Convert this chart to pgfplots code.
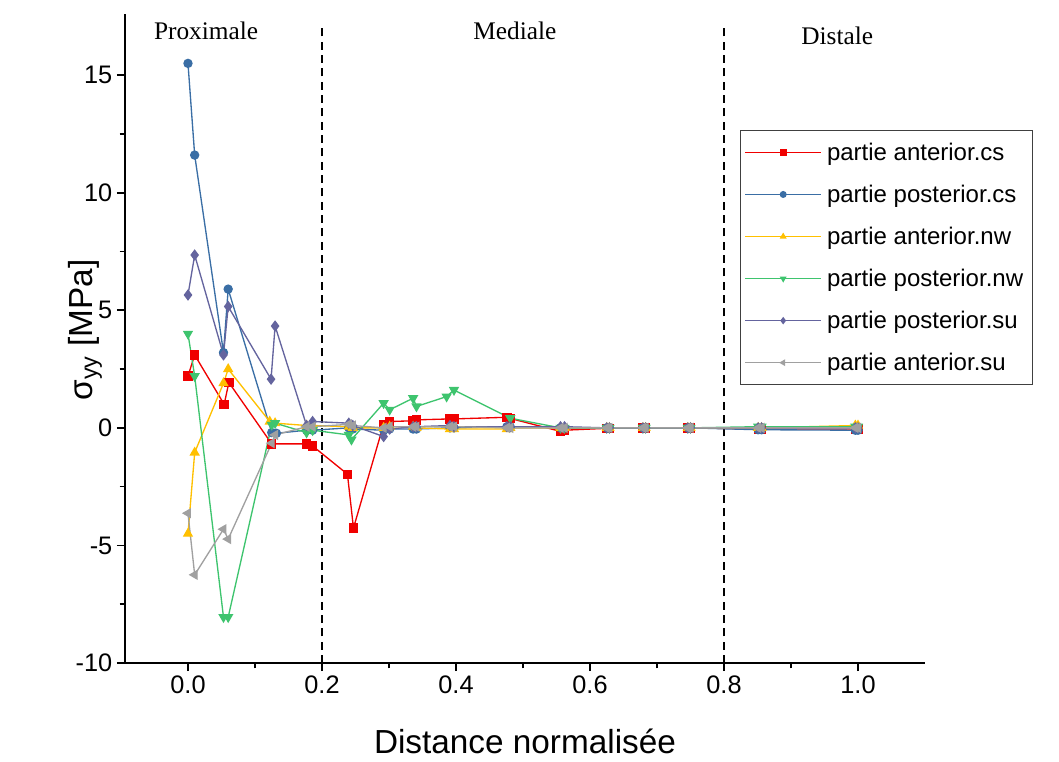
\documentclass[border=0pt]{standalone}
\usepackage{pgfplots}
\pgfplotsset{compat=1.18}
\usepackage{fontspec}
\setmainfont{Liberation Sans}
\newfontfamily\seriffont{Liberation Serif}
\definecolor{cRed}{HTML}{F00000}
\definecolor{cBlue}{HTML}{3A6EA5}
\definecolor{cYel}{HTML}{FFC000}
\definecolor{cGreen}{HTML}{3EC46E}
\definecolor{cPurp}{HTML}{64649E}
\definecolor{cGray}{HTML}{A0A0A0}
\begin{document}
\begin{tikzpicture}
\begin{axis}[
  name=ax,
  scale only axis,
  width=600pt, height=486.75pt,
  xmin=-0.094, xmax=1.1, ymin=-10, ymax=17.6,
  axis x line=bottom, axis y line=left,
  axis line style={-, line width=1.4pt},
  tick align=outside,
  major tick length=6pt, minor tick length=4pt,
  tick style={line width=1.2pt, black},
  xtick={0,0.2,0.4,0.6,0.8,1.0},
  ytick={-10,-5,0,5,10,15},
  minor x tick num=1, minor y tick num=1,
  xticklabel style={/pgf/number format/.cd, fixed, fixed zerofill, precision=1},
  /pgf/number format/assume math mode=true,
  ticklabel style={font=\fontsize{19}{22}\selectfont},
  xlabel={Distance normalisée},
  ylabel={σ\textsubscript{yy} [MPa]},
  label style={font=\fontsize{25}{30}\selectfont},
  xlabel style={at={(axis description cs:0.5,0)}, anchor=center, yshift=-59pt},
  ylabel style={at={(axis description cs:-0.05,0.513)}, anchor=center},
  legend style={at={(0.769,0.821)}, anchor=north west, draw=black!75, line width=0.8pt,
    font=\fontsize{18}{21}\selectfont, row sep=13pt, inner xsep=3pt, inner ysep=7pt,
    nodes={inner xsep=4pt}},
  legend cell align=left,
  legend image code/.code={\draw[mark repeat=2,mark phase=2,#1, mark size=2.2pt, line width=0.8pt] plot coordinates {(0cm,0cm) (1cm,0cm) (2cm,0cm)};},
  every axis plot/.append style={line width=1pt},
  clip=false,
]
\addplot[black, dash pattern=on 6pt off 4pt, line width=0.9pt, forget plot] coordinates {(0.2,-10) (0.2,17.1)};
\addplot[black, dash pattern=on 6pt off 4pt, line width=0.9pt, forget plot] coordinates {(0.8,-10) (0.8,17.1)};

\addplot[cRed, mark=square*, mark size=3pt] coordinates {
(0,2.2) (0.010,3.1) (0.054,1.0) (0.061,1.93) (0.125,-0.68) (0.177,-0.68) (0.186,-0.77)
(0.238,-1.97) (0.247,-4.26) (0.292,0.15) (0.301,0.27) (0.336,0.30) (0.341,0.34)
(0.391,0.38) (0.397,0.38) (0.476,0.45) (0.481,0.40) (0.556,-0.15) (0.562,-0.1)
(0.625,-0.02) (0.629,-0.02) (0.679,0) (0.683,0) (0.746,0) (0.750,0) (0.851,-0.05) (0.856,-0.05) (0.996,-0.05) (1.0,-0.05)};
\addlegendentry{partie anterior.cs}

\addplot[cBlue, mark=*, mark size=3pt] coordinates {
(0,15.5) (0.010,11.6) (0.053,3.2) (0.060,5.9) (0.125,-0.2) (0.132,-0.23) (0.177,-0.1) (0.186,-0.1)
(0.240,0.0) (0.246,-0.05) (0.292,-0.1) (0.301,-0.05) (0.336,-0.05) (0.341,-0.05)
(0.391,0) (0.397,0) (0.476,0.05) (0.481,0.05) (0.556,0) (0.562,0)
(0.625,0) (0.629,0) (0.679,0) (0.683,0) (0.746,0) (0.750,0) (0.851,-0.08) (0.856,-0.08) (0.996,-0.1) (1.0,-0.1)};
\addlegendentry{partie posterior.cs}

\addplot[cYel, mark=triangle*, mark size=3.5pt] coordinates {
(0,-4.5) (0.010,-1.05) (0.053,1.9) (0.060,2.5) (0.122,0.27) (0.130,0.2) (0.177,0.1) (0.186,0.1)
(0.240,0.05) (0.246,0.0) (0.292,0.0) (0.301,0.05) (0.336,0.05) (0.341,0.0)
(0.391,-0.05) (0.397,-0.05) (0.476,-0.05) (0.481,0) (0.556,0) (0.562,0)
(0.625,0) (0.629,0) (0.679,0) (0.683,0) (0.746,0) (0.750,0) (0.851,0) (0.856,0) (0.996,0.1) (1.0,0.1)};
\addlegendentry{partie anterior.nw}

\addplot[cGreen, mark=triangle*, mark options={rotate=180}, mark size=3.5pt] coordinates {
(0,4.0) (0.010,2.2) (0.053,-8.05) (0.060,-8.05) (0.125,0.13) (0.130,0.2) (0.177,-0.2) (0.186,-0.1)
(0.240,-0.3) (0.244,-0.5) (0.292,1.05) (0.301,0.77) (0.336,1.26) (0.341,0.91)
(0.386,1.33) (0.397,1.61) (0.481,0.41) (0.556,0) (0.562,0)
(0.625,0) (0.629,0) (0.679,0) (0.683,0) (0.746,0) (0.750,0) (0.851,0.05) (0.856,0.05) (0.996,0.05) (1.0,0.05)};
\addlegendentry{partie posterior.nw}

\addplot[cPurp, mark=diamond*, mark size=3.5pt] coordinates {
(0,5.65) (0.010,7.35) (0.053,3.1) (0.060,5.16) (0.124,2.07) (0.130,4.33) (0.177,0.1) (0.186,0.27)
(0.240,0.2) (0.246,0.1) (0.292,-0.37) (0.301,-0.05) (0.336,0.05) (0.341,0.05)
(0.391,0.1) (0.397,0.05) (0.476,0.05) (0.481,0.05) (0.556,0.05) (0.562,0.05)
(0.625,0) (0.629,0) (0.679,0) (0.683,0) (0.746,0) (0.750,0) (0.851,0) (0.856,0) (0.996,0) (1.0,0)};
\addlegendentry{partie posterior.su}

\addplot[cGray, mark=triangle*, mark options={rotate=90}, mark size=3.5pt] coordinates {
(0,-3.63) (0.010,-6.25) (0.053,-4.31) (0.060,-4.73) (0.125,-0.65) (0.130,-0.3) (0.177,0.05) (0.186,0.05)
(0.240,0.15) (0.246,0.1) (0.292,0.0) (0.301,0.05) (0.336,0.05) (0.341,0.05)
(0.391,0.05) (0.397,0.05) (0.476,0.0) (0.481,0.0) (0.556,0) (0.562,0)
(0.625,0) (0.629,0) (0.679,0) (0.683,0) (0.746,0) (0.750,0) (0.851,0) (0.856,0) (0.996,0) (1.0,0)};
\addlegendentry{partie anterior.su}

\node[font=\seriffont\fontsize{19}{22}\selectfont] at (axis cs:0.027,16.9) {Proximale};
\node[font=\seriffont\fontsize{19}{22}\selectfont] at (axis cs:0.488,16.9) {Mediale};
\node[font=\seriffont\fontsize{19}{22}\selectfont] at (axis cs:0.969,16.66) {Distale};
\end{axis}
\pgfresetboundingbox
\path[use as bounding box] ([shift={(-93.75pt,-73.5pt)}]ax.south west) rectangle ([shift={(100.5pt,10.5pt)}]ax.north east);
\end{tikzpicture}
\end{document}
